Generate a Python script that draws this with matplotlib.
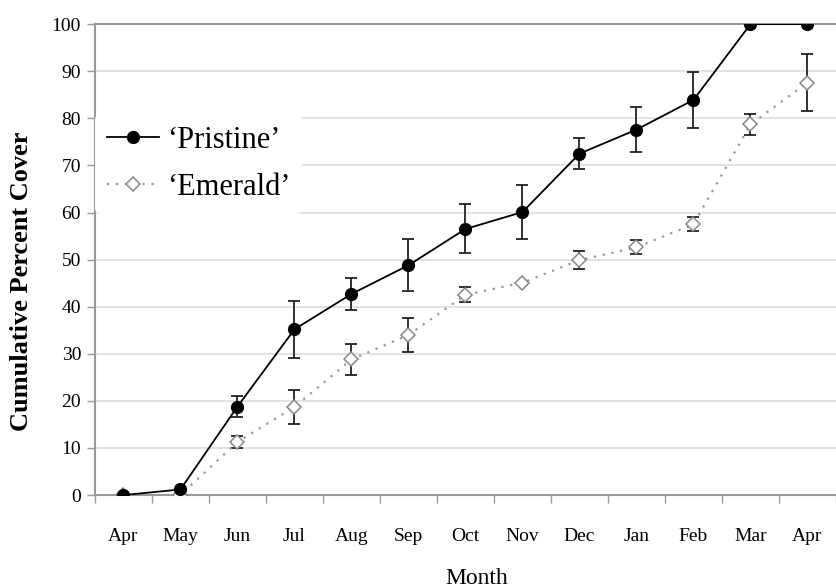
import matplotlib.pyplot as plt

# Данные
months = ['Apr', 'May', 'Jun', 'Jul', 'Aug', 'Sep', 'Oct', 'Nov', 'Dec', 'Jan', 'Feb', 'Mar', 'Apr']
pristine = [0, 1.2, 18.8, 35.2, 42.7, 48.8, 56.5, 60.1, 72.5, 77.6, 83.9, 100, 100]
pristine_err = [0, 0, 2.3, 6.1, 3.3, 5.5, 5.2, 5.8, 3.3, 4.7, 5.9, 0, 0]
emerald = [0, 0, 11.3, 18.7, 28.8, 34.0, 42.5, 45.1, 49.9, 52.6, 57.5, 78.7, 87.6]
emerald_err = [0, 0, 1.2, 3.7, 3.2, 3.6, 1.6, 0, 1.9, 1.5, 1.5, 2.3, 6.0]

plt.rcParams['font.family'] = ['Liberation Serif', 'DejaVu Serif']

fig = plt.figure(figsize=(8.36, 5.88), dpi=100)
ax = fig.add_axes([0.1136, 0.158, 0.8864, 0.801])

x = list(range(len(months)))

# Сетка
ax.set_axisbelow(True)
ax.yaxis.grid(True, color='#dddddd', linewidth=1.2)

# 'Emerald' — пунктир и ромбы
ax.errorbar(x, emerald, yerr=emerald_err, fmt='none', ecolor='#222222',
            elinewidth=1.3, capsize=4, capthick=1.3, zorder=2)
ax.plot(x, emerald, linestyle=(0, (1, 3)), color='#999999', linewidth=1.6,
        marker='D', markersize=7.5, markerfacecolor='white',
        markeredgecolor='#888888', markeredgewidth=1.1, label='\u2018Emerald\u2019', zorder=3)

# 'Pristine' — сплошная линия и чёрные точки
ax.errorbar(x, pristine, yerr=pristine_err, fmt='none', ecolor='#222222',
            elinewidth=1.3, capsize=4, capthick=1.3, zorder=4)
ax.plot(x, pristine, '-', color='black', linewidth=1.3, marker='o', markersize=8.5,
        label='\u2018Pristine\u2019', zorder=5)

ax.set_xlim(-0.5, 12.44)
ax.set_ylim(0, 100)
ax.set_yticks(range(0, 101, 10))
ax.set_xticks(x)
ax.set_xticklabels(months, fontsize=14)
ax.set_xticks([i - 0.5 for i in range(len(months) + 1)], minor=True)
ax.tick_params(axis='x', which='major', length=0, pad=24)
ax.tick_params(axis='x', which='minor', length=6, color='#999999', width=1)
ax.tick_params(axis='y', labelsize=14, length=6, color='#999999', width=1, pad=4)

for s in ['left', 'bottom', 'top']:
    ax.spines[s].set_color('#999999')
    ax.spines[s].set_linewidth(1.5)
ax.spines['right'].set_visible(False)

ax.set_ylabel('Cumulative Percent Cover', fontsize=19, fontweight='bold')
ax.yaxis.set_label_coords(-0.084, 0.454)
ax.set_xlabel('Month', fontsize=17)
ax.xaxis.set_label_coords(0.515, -0.155)

# Легенда в порядке: Pristine, Emerald
handles, labels = ax.get_legend_handles_labels()
leg = ax.legend(handles[::-1], labels[::-1], loc='upper left', bbox_to_anchor=(0.0, 0.81),
                fontsize=22, frameon=True, framealpha=1, edgecolor='white',
                handlelength=1.7, handletextpad=0.25, labelspacing=0.6,
                borderpad=0.4, borderaxespad=0)
leg.get_frame().set_linewidth(0)

fig.savefig('out.png', dpi=100, facecolor='white')
